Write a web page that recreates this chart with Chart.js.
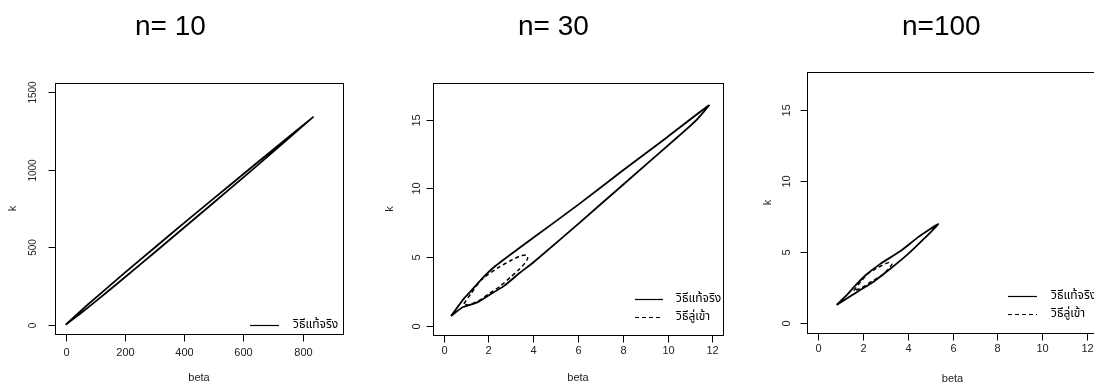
<!DOCTYPE html>
<html>
<head>
<meta charset="utf-8">
<script src="https://cdn.jsdelivr.net/npm/chart.js@4"></script>
<style>
  html, body { margin: 0; padding: 0; background: #fff; overflow: hidden; }
  body { width: 1094px; height: 385px; position: relative; }
  .panel { position: absolute; left: 0; top: 0; width: 1100px; height: 385px; }
</style>
</head>
<body>
<div class="panel"><canvas id="c10" width="1100" height="385"></canvas></div>
<div class="panel"><canvas id="c30" width="1100" height="385"></canvas></div>
<div class="panel"><canvas id="c100" width="1100" height="385"></canvas></div>
<script>
// legend labels
const trueLabel = "วิธีแท้จริง";
const convLabel = "วิธีลู่เข้า";

// n = 10 : exact region (thin sliver)
const n10TrueBeta = [0, 50, 100, 200, 300, 400, 500, 600, 700, 835, 700, 600, 500, 400, 300, 200, 100, 50, 0];
const n10TrueK = [0, 88, 172, 336, 497, 657, 815, 973, 1130, 1340, 1116, 951, 789, 627, 466, 306, 149, 72, 0];

// n = 30
const n30TrueBeta = [0.32, 0.91, 1.2, 1.65, 2.2, 3.0, 4.0, 6.0, 8.0, 10.0, 11.85, 11.3, 10.7, 10.0, 8.0, 6.0, 4.0, 3.4, 2.7, 2.0, 1.5, 0.84, 0.32];
const n30TrueK = [0.7, 1.99, 2.5, 3.32, 4.2, 5.2, 6.4, 8.8, 11.3, 13.75, 16.05, 15.0, 14.1, 13.1, 10.25, 7.4, 4.6, 3.85, 2.9, 2.2, 1.7, 1.34, 0.7];
const n30ConvBeta = [0.9, 1.2, 1.65, 2.0, 2.5, 3.0, 3.45, 3.7, 3.75, 3.6, 3.4, 3.0, 2.5, 2.0, 1.5, 1.1, 0.9];
const n30ConvK = [1.6, 2.3, 3.3, 3.75, 4.3, 4.75, 5.1, 5.15, 4.9, 4.5, 4.15, 3.55, 2.85, 2.3, 1.75, 1.5, 1.6];

// n = 100
const n100TrueBeta = [0.84, 1.3, 1.7, 2.1, 2.8, 3.7, 4.5, 5.36, 4.7, 4.0, 3.2, 2.5, 1.8, 1.5, 0.84];
const n100TrueK = [1.29, 2.0, 2.7, 3.35, 4.2, 5.1, 6.1, 6.98, 5.9, 4.85, 3.8, 2.95, 2.25, 1.95, 1.29];
const n100ConvBeta = [1.6, 1.9, 2.2, 2.7, 3.2, 3.3, 3.1, 2.9, 2.4, 1.9, 1.6];
const n100ConvK = [2.3, 2.9, 3.45, 3.95, 4.3, 4.15, 3.75, 3.4, 2.95, 2.45, 2.3];

// tick labels
const n10BetaTicks = [0, 200, 400, 600, 800];
const n10KTicks = [0, 500, 1000, 1500];
const betaTicks = [0, 2, 4, 6, 8, 10, 12];
const kTicks = [0, 5, 10, 15];

const pts = (xs, ys) => xs.map((v, i) => ({ x: v, y: ys[i] }));
const numFont = '11px "Liberation Sans", Arial, sans-serif';
const thaiFont = '12px Tahoma, "Noto Sans Thai", "DejaVu Sans", sans-serif';

// R-like box, axes, titles and legend, drawn from the chart scales
const rStyle = {
  id: "rStyle",
  afterDraw(chart, args, o) {
    const { ctx, chartArea: a, scales: { x, y } } = chart;
    ctx.save();
    ctx.strokeStyle = "#000";
    ctx.lineWidth = 1;
    ctx.strokeRect(Math.round(a.left) + 0.5, Math.round(a.top) + 0.5,
      Math.round(a.right - a.left), Math.round(a.bottom - a.top));

    ctx.fillStyle = "#222";
    ctx.font = numFont;
    ctx.textAlign = "center";
    ctx.textBaseline = "middle";
    const bot = Math.round(a.bottom) + 0.5;
    o.xTicks.forEach(v => {
      const px = Math.round(x.getPixelForValue(v)) + 0.5;
      ctx.beginPath(); ctx.moveTo(px, bot); ctx.lineTo(px, bot + 7); ctx.stroke();
      ctx.fillText(String(v), px, a.bottom + o.xLabGap);
    });
    const lft = Math.round(a.left) + 0.5;
    ctx.font = o.yFont || numFont;
    o.yTicks.forEach(v => {
      const py = Math.round(y.getPixelForValue(v)) + 0.5;
      ctx.beginPath(); ctx.moveTo(lft, py); ctx.lineTo(lft - 7, py); ctx.stroke();
      ctx.save();
      ctx.translate(a.left - o.yLabGap, py);
      ctx.rotate(-Math.PI / 2);
      ctx.fillText(String(v), 0, 0);
      ctx.restore();
    });

    // axis titles
    ctx.font = numFont;
    ctx.fillText("beta", (a.left + Math.min(a.right, 1094 + 4)) / 2, o.betaY);
    ctx.save();
    ctx.translate(a.left - o.kGap, (a.top + a.bottom) / 2);
    ctx.rotate(-Math.PI / 2);
    ctx.fillText("k", 0, 0);
    ctx.restore();

    // panel title
    ctx.fillStyle = "#000";
    ctx.font = '28px "Liberation Sans", Arial, sans-serif';
    ctx.textAlign = "left";
    ctx.textBaseline = "alphabetic";
    ctx.fillText(o.title, o.titleX, 35);

    // legend (bottom right, no box)
    ctx.font = thaiFont;
    ctx.textBaseline = "middle";
    chart.data.datasets.forEach((ds, i) => {
      const ly = Math.round(a.bottom - o.legBottom + i * o.legStep) + 0.5;
      ctx.strokeStyle = "#000";
      ctx.lineWidth = 1.2;
      ctx.setLineDash(ds.borderDash || []);
      ctx.beginPath();
      ctx.moveTo(a.right - o.legLine[0], ly);
      ctx.lineTo(a.right - o.legLine[1], ly);
      ctx.stroke();
      ctx.setLineDash([]);
      ctx.fillText(ds.label, a.right - o.legText, ly);
    });
    ctx.restore();
  }
};

function makePanel(id, datasets, xr, yr, pad, opts) {
  new Chart(document.getElementById(id), {
    type: "scatter",
    data: { datasets },
    options: {
      responsive: false,
      animation: false,
      devicePixelRatio: 1,
      layout: { padding: pad },
      scales: {
        x: { type: "linear", display: false, min: xr[0], max: xr[1] },
        y: { type: "linear", display: false, min: yr[0], max: yr[1] }
      },
      plugins: { legend: { display: false }, tooltip: { enabled: false }, rStyle: opts }
    },
    plugins: [rStyle]
  });
}

const solid = (label, data) => ({
  label, data, showLine: true, pointRadius: 0, borderColor: "#000",
  borderWidth: 1.8, tension: 0.15, fill: false
});
const dashed = (label, data) => ({
  label, data, showLine: true, pointRadius: 0, borderColor: "#000",
  borderWidth: 1.5, borderDash: [4, 3], tension: 0.15, fill: false
});

makePanel("c10",
  [solid(trueLabel, pts(n10TrueBeta, n10TrueK))],
  [-36, 936], [-60, 1560],
  { left: 55, top: 83, right: 757, bottom: 51 },
  { xTicks: n10BetaTicks, yTicks: n10KTicks, xLabGap: 19, yLabGap: 22, kGap: 42, betaY: 378,
    yFont: '10px "Liberation Sans", Arial, sans-serif',
    title: "n= 10", titleX: 135, legBottom: 9, legStep: 18, legLine: [93, 64], legText: 50 });

makePanel("c30",
  [solid(trueLabel, pts(n30TrueBeta, n30TrueK)), dashed(convLabel, pts(n30ConvBeta, n30ConvK))],
  [-0.48, 12.48], [-0.68, 17.68],
  { left: 433, top: 83, right: 377, bottom: 50 },
  { xTicks: betaTicks, yTicks: kTicks, xLabGap: 16, yLabGap: 16, kGap: 43, betaY: 378,
    title: "n= 30", titleX: 518, legBottom: 36, legStep: 18, legLine: [88, 60], legText: 47 });

makePanel("c100",
  [solid(trueLabel, pts(n100TrueBeta, n100TrueK)), dashed(convLabel, pts(n100ConvBeta, n100ConvK))],
  [-0.48, 12.48], [-0.68, 17.68],
  { left: 807, top: 72, right: 2, bottom: 52 },
  { xTicks: betaTicks, yTicks: kTicks, xLabGap: 16, yLabGap: 20, kGap: 39, betaY: 379,
    title: "n=100", titleX: 902, legBottom: 37, legStep: 18, legLine: [90, 61], legText: 47 });
</script>
</body>
</html>
